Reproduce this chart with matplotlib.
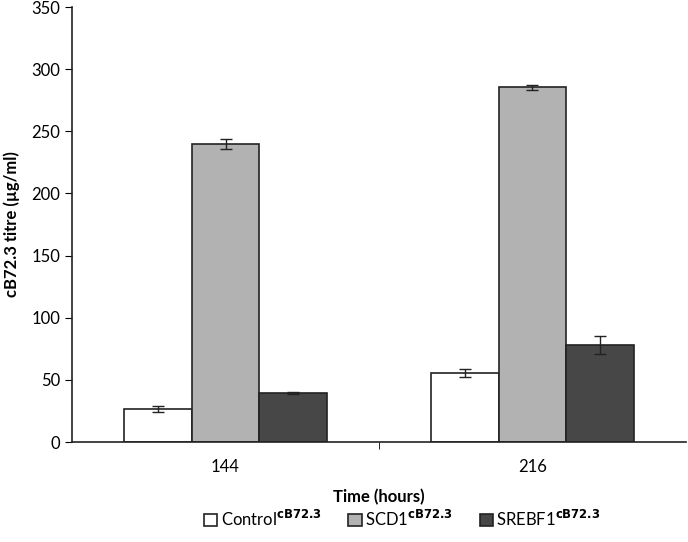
import matplotlib
matplotlib.use("Agg")
import matplotlib.pyplot as plt
import numpy as np

plt.rcParams['font.family'] = ['Lato', 'DejaVu Sans']

times = ["144", "216"]
series = ["Control$^{\\mathbf{cB72.3}}$", "SCD1$^{\\mathbf{cB72.3}}$", "SREBF1$^{\\mathbf{cB72.3}}$"]
control = [26.5, 55.5]
scd1 = [240.0, 285.5]
srebf1 = [39.5, 78.0]
control_err = [2.5, 3.0]
scd1_err = [4.0, 2.0]
srebf1_err = [0.5, 7.0]
colors = ["white", "#b2b2b2", "#474747"]

fig = plt.figure(figsize=(6.88, 5.42), dpi=100)
ax = fig.add_axes([0.1047, 0.1845, 0.8923, 0.8025])

x = np.arange(len(times))
w = 0.22
vals = [control, scd1, srebf1]
errs = [control_err, scd1_err, srebf1_err]
for i, (v, e, c, lab) in enumerate(zip(vals, errs, colors, series)):
    ax.bar(x + (i - 1) * w, v, w, color=c, edgecolor="#222222", linewidth=1.2,
           yerr=e, capsize=4, error_kw=dict(ecolor="#222222", elinewidth=1, capthick=1),
           label=lab)

ax.set_xlim(-0.5, 1.5)
ax.set_ylim(0, 350)
ax.set_yticks(np.arange(0, 351, 50))
ax.set_xticks(x)
ax.set_xticklabels(times)
ax.tick_params(axis='x', length=0, labelsize=12, pad=12)
ax.tick_params(axis='y', direction='out', length=5, labelsize=12, colors='black')
ax.set_xticks([0.5], minor=True)
ax.tick_params(axis='x', which='minor', length=5, direction='out')
for s in ['top', 'right']:
    ax.spines[s].set_visible(False)
for s in ['left', 'bottom']:
    ax.spines[s].set_linewidth(1.2)
    ax.spines[s].set_color('#222222')

ax.set_ylabel("cB72.3 titre (µg/ml)", fontsize=12, fontweight='bold', labelpad=8)
ax.set_xlabel("Time (hours)", fontsize=12, fontweight='bold', labelpad=10)

leg = fig.legend(loc='center', bbox_to_anchor=(0.585, 0.043), ncol=3, frameon=False,
                 fontsize=12, handlelength=0.8, handleheight=0.8, columnspacing=1.6,
                 handletextpad=0.2)

fig.savefig("out.png", dpi=100)
